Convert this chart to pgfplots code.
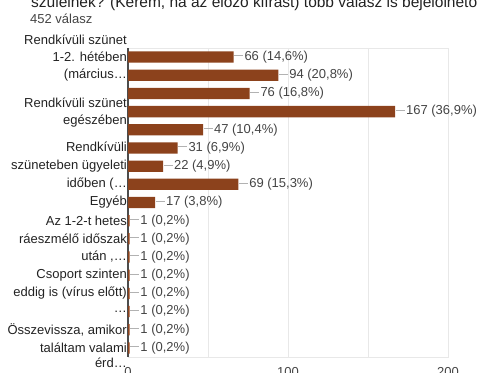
\documentclass[border=0pt]{standalone}
\usepackage{pgfplots}
\pgfplotsset{compat=1.18}
\usepackage{fontspec}
\setmainfont{Liberation Sans}
\definecolor{barc}{RGB}{140,66,28}
\definecolor{txt}{RGB}{34,34,34}
\definecolor{vtxt}{RGB}{68,68,68}
\newcommand{\fs}{\fontsize{13bp}{15bp}\selectfont}
\newcommand{\ld}{\textcolor{gray!60}{\rule[0.33em]{9bp}{0.7bp}}\hspace{1.2bp}}
\begin{document}
\begin{tikzpicture}
\path[use as bounding box] (0,0) rectangle (478bp,-373bp);
\clip (0,0) rectangle (478bp,-373bp);
\node[anchor=base west, font=\fontsize{15.5bp}{17bp}\selectfont, text=txt, inner sep=0] at (31bp,-7.5bp) {szüleinek? (Kérem, ha az előző kiírást) több válasz is bejelölhető};
\node[anchor=base west, font=\fs, text=vtxt, inner sep=0] at (30bp,-23bp) {452 válasz};
\begin{axis}[
  at={(128bp,-357bp)}, anchor=south west,
  scale only axis, width=320bp, height=309bp,
  xbar, bar width=0.62,
  y dir=reverse, ymin=0.5, ymax=17.5,
  xmin=0, xmax=200,
  xtick={0,100,200}, minor xtick={50,150},
  xmajorgrids, xminorgrids,
  grid style={gray!18},
  minor grid style={gray!18},
  extra x ticks={0}, extra x tick labels={},
  extra x tick style={grid style={black!70, line width=1.2pt}},
  major tick length=0, minor tick length=0,
  axis line style={gray!18},
  ytick={1,2,3.52,4.5,5.95,7,8,9,10,11,12,13,14,15,16,17},
  yticklabels={{1-2. hétében},{(március…},{Rendkívüli szünet},{egészében},{Rendkívüli},{szüneteben ügyeleti},{időben (…},{Egyéb},{Az 1-2-t hetes},{ráeszmélő időszak},{után ,…},{Csoport szinten},{eddig is (vírus előtt)},{…},{Összevissza, amikor},{találtam valami}},
  yticklabel style={font=\fs, text=txt, inner sep=1bp},
  xticklabel style={font=\fs, text=vtxt, yshift=-7bp},
  /pgf/number format/assume math mode=true,
  point meta=explicit symbolic,
  nodes near coords={\ld\pgfplotspointmeta},
  every node near coord/.style={anchor=west, inner sep=0.5bp, font=\fs, text=vtxt},
  clip=false,
]
\addplot[fill=barc, draw=none] coordinates {
(66,1) [66 (14,6\%)]
(94,2) [94 (20,8\%)]
(76,3) [76 (16,8\%)]
(167,4) [167 (36,9\%)]
(47,5) [47 (10,4\%)]
(31,6) [31 (6,9\%)]
(22,7) [22 (4,9\%)]
(69,8) [69 (15,3\%)]
(17,9) [17 (3,8\%)]
(1,10) [1 (0,2\%)]
(1,11) [1 (0,2\%)]
(1,12) [1 (0,2\%)]
(1,13) [1 (0,2\%)]
(1,14) [1 (0,2\%)]
(1,15) [1 (0,2\%)]
(1,16) [1 (0,2\%)]
(1,17) [1 (0,2\%)]
};
\node[anchor=east, font=\fs, text=txt, inner sep=1bp] at (axis cs:0,0.06) {Rendkívüli szünet};
\node[anchor=east, font=\fs, text=txt, inner sep=1bp] at (axis cs:0,17.8) {érd…};
\end{axis}
\end{tikzpicture}
\end{document}
